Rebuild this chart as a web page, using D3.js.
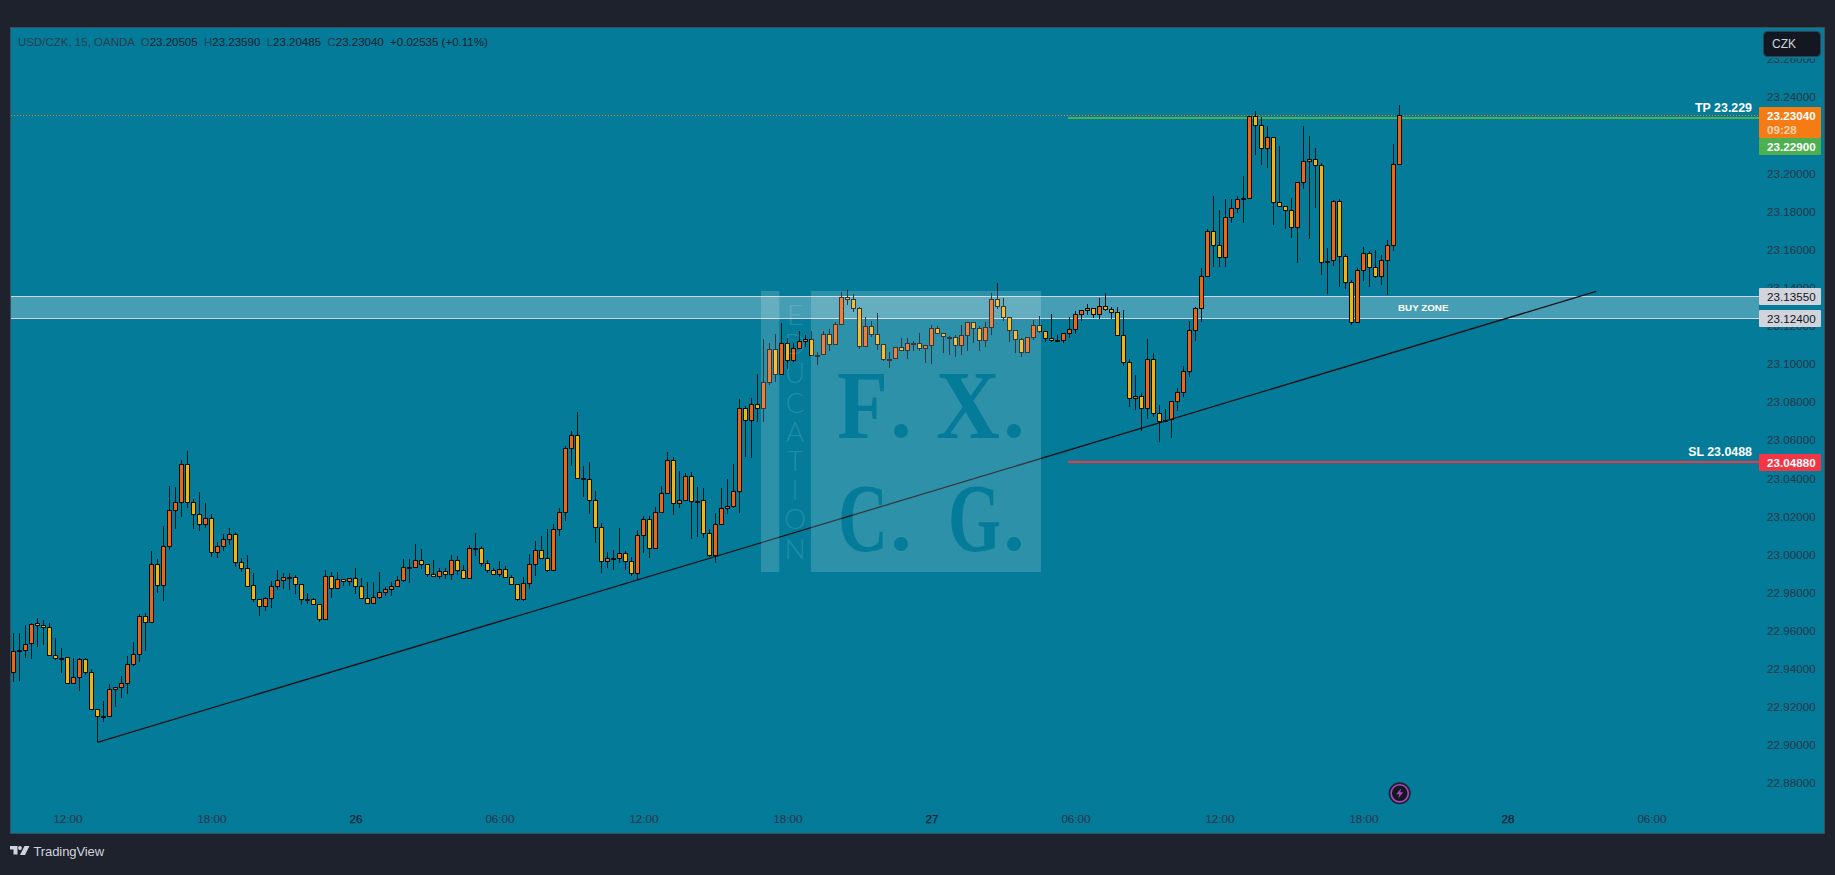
<!DOCTYPE html>
<html><head><meta charset="utf-8">
<script src="https://cdn.jsdelivr.net/npm/d3@7/dist/d3.min.js"></script>
<style>
html,body{margin:0;padding:0;background:#1e222d;overflow:hidden}
svg{display:block}
text{font-family:"Liberation Sans",sans-serif}
</style></head><body><svg id="c" width="1835" height="875"></svg>
<script>
const opens=[22.9381,22.9492,22.9497,22.9534,22.9639,22.9628,22.9618,22.9471,22.9458,22.9460,
22.9324,22.9355,22.9450,22.9381,22.9192,22.9155,22.9155,22.9292,22.9303,22.9324,
22.9423,22.9476,22.9675,22.9644,22.9948,22.9838,23.0043,23.0232,23.0274,23.0473,
23.0274,23.0211,23.0158,23.0190,23.0011,23.0046,23.0080,23.0106,22.9959,22.9927,
22.9838,22.9765,22.9728,22.9770,22.9833,22.9864,22.9878,22.9880,22.9843,22.9765,
22.9765,22.9738,22.9660,22.9885,22.9822,22.9870,22.9859,22.9875,22.9833,22.9770,
22.9744,22.9775,22.9801,22.9817,22.9833,22.9864,22.9933,22.9933,22.9969,22.9948,
22.9896,22.9885,22.9912,22.9896,22.9969,22.9917,22.9875,23.0032,23.0032,22.9954,
22.9917,22.9896,22.9922,22.9880,22.9843,22.9765,22.9849,22.9948,23.0022,22.9980,
22.9917,23.0132,23.0221,23.0557,23.0626,23.0400,23.0395,23.0284,23.0143,22.9964,
22.9980,22.9980,23.0006,22.9964,22.9901,23.0101,23.0185,23.0032,23.0221,23.0321,
23.0494,23.0268,23.0284,23.0410,23.0282,23.0284,23.0111,22.9995,23.0158,23.0242,
23.0253,23.0332,23.0767,23.0704,23.0788,23.0767,23.0903,23.1077,23.0945,23.1108,
23.1019,23.1082,23.1118,23.1129,23.1048,23.1050,23.1155,23.1103,23.1208,23.1350,
23.1339,23.1292,23.1092,23.1197,23.1155,23.1103,23.1028,23.1029,23.1087,23.1071,
23.1108,23.1108,23.1082,23.1098,23.1187,23.1160,23.1143,23.1140,23.1098,23.1150,
23.1218,23.1187,23.1124,23.1192,23.1339,23.1302,23.1245,23.1176,23.1129,23.1061,
23.1140,23.1203,23.1171,23.1134,23.1124,23.1124,23.1160,23.1182,23.1260,23.1281,
23.1292,23.1260,23.1302,23.1287,23.1271,23.1150,23.1008,23.0819,23.0830,23.0767,
23.1024,23.0741,23.0706,23.0709,23.0804,23.0851,23.0961,23.1176,23.1292,23.1460,
23.1696,23.1623,23.1560,23.1770,23.1817,23.1869,23.1869,23.2300,23.2253,23.2132,
23.2190,23.1848,23.1827,23.1806,23.1717,23.1953,23.2064,23.2074,23.2043,23.1533,
23.1544,23.1854,23.1565,23.1428,23.1218,23.1491,23.1581,23.1507,23.1460,23.1544,
23.1623,23.20505];
const highs=[22.9586,22.9586,22.9630,22.9639,22.9665,22.9656,22.9639,22.9560,22.9507,22.9460,
22.9457,22.9455,22.9455,22.9397,22.9192,22.9231,22.9318,22.9306,22.9362,22.9465,
22.9539,22.9686,22.9691,23.0018,22.9975,23.0148,23.0360,23.0353,23.0494,23.0542,
23.0290,23.0326,23.0269,23.0211,23.0064,23.0106,23.0137,23.0116,22.9980,22.9996,
22.9901,22.9765,22.9775,22.9859,22.9917,22.9901,22.9901,22.9891,22.9843,22.9798,
22.9773,22.9738,22.9917,22.9906,22.9906,22.9870,22.9875,22.9927,22.9875,22.9854,
22.9854,22.9906,22.9828,22.9854,22.9885,22.9976,22.9976,23.0053,23.0027,22.9948,
22.9969,22.9927,22.9927,22.9997,22.9990,22.9945,23.0048,23.0111,23.0043,22.9971,
22.9927,22.9964,22.9938,22.9891,22.9843,22.9880,23.0003,23.0069,23.0097,23.0132,
23.0158,23.0242,23.0568,23.0647,23.0746,23.0463,23.0484,23.0332,23.0164,23.0011,
23.0022,23.0137,23.0017,22.9989,23.0127,23.0200,23.0200,23.0248,23.0358,23.0536,
23.0510,23.0437,23.0426,23.0431,23.0352,23.0347,23.0132,23.0216,23.0347,23.0395,
23.0473,23.0816,23.0780,23.0821,23.0947,23.1131,23.1108,23.1155,23.1213,23.1134,
23.1108,23.1173,23.1150,23.1173,23.1061,23.1171,23.1182,23.1218,23.1376,23.1388,
23.1365,23.1297,23.1245,23.1225,23.1266,23.1103,23.1061,23.1087,23.1138,23.1134,
23.1118,23.1160,23.1099,23.1203,23.1199,23.1162,23.1145,23.1152,23.1203,23.1218,
23.1218,23.1197,23.1218,23.1372,23.1425,23.1346,23.1245,23.1176,23.1134,23.1140,
23.1231,23.1252,23.1171,23.1260,23.1150,23.1160,23.1245,23.1276,23.1281,23.1315,
23.1292,23.1346,23.1371,23.1297,23.1297,23.1281,23.1024,23.0940,23.0846,23.1129,
23.1056,23.0783,23.0762,23.0804,23.0872,23.0987,23.1224,23.1297,23.1502,23.1707,
23.1880,23.1806,23.1866,23.1864,23.1880,23.1985,23.2302,23.2326,23.2295,23.2247,
23.2190,23.2142,23.1827,23.1869,23.1953,23.2247,23.2195,23.2132,23.2053,23.1607,
23.1859,23.1864,23.1575,23.1439,23.1502,23.1612,23.1591,23.1596,23.1570,23.1649,
23.2153,23.2359];
const lows=[22.9332,22.9338,22.9458,22.9453,22.9516,22.9527,22.9469,22.9448,22.9380,22.9324,
22.9324,22.9285,22.9369,22.9192,22.9014,22.9122,22.9154,22.9201,22.9248,22.9269,
22.9413,22.9437,22.9495,22.9639,22.9800,22.9758,23.0025,23.0136,23.0199,23.0246,
23.0136,23.0125,23.0137,22.9989,22.9983,23.0020,23.0052,22.9936,22.9910,22.9833,
22.9749,22.9679,22.9705,22.9721,22.9814,22.9821,22.9815,22.9794,22.9737,22.9742,
22.9733,22.9647,22.9660,22.9773,22.9822,22.9836,22.9836,22.9791,22.9770,22.9738,
22.9738,22.9765,22.9784,22.9784,22.9828,22.9857,22.9850,22.9933,22.9926,22.9880,
22.9885,22.9873,22.9871,22.9866,22.9892,22.9873,22.9873,22.9994,22.9936,22.9905,
22.9891,22.9880,22.9880,22.9841,22.9758,22.9758,22.9821,22.9889,22.9980,22.9906,
22.9917,23.0097,23.0176,23.0466,23.0400,23.0304,23.0214,23.0062,22.9905,22.9931,
22.9920,22.9954,22.9917,22.9889,22.9864,23.0010,22.9983,23.0032,23.0221,23.0321,
23.0207,23.0242,23.0284,23.0081,23.0092,23.0087,22.9985,22.9955,23.0158,23.0211,
23.0242,23.0220,23.0514,23.0508,23.0697,23.0697,23.0889,23.0907,23.0945,23.0975,
23.1012,23.1082,23.1087,23.1043,23.0996,23.1050,23.1070,23.1098,23.1208,23.1309,
23.1273,23.1077,23.1092,23.1143,23.1073,23.1017,23.0980,23.1028,23.1070,23.1024,
23.1070,23.1066,23.1003,23.1001,23.1160,23.1057,23.1048,23.1038,23.1048,23.1070,
23.1112,23.1070,23.1091,23.1154,23.1290,23.1224,23.1117,23.1059,23.1038,23.1061,
23.1124,23.1160,23.1117,23.1113,23.1122,23.1112,23.1134,23.1159,23.1227,23.1257,
23.1241,23.1236,23.1276,23.1234,23.1150,23.0991,23.0776,23.0758,23.0650,23.0713,
23.0720,23.0592,23.0699,23.0613,23.0755,23.0828,23.0933,23.1122,23.1222,23.1458,
23.1511,23.1511,23.1507,23.1742,23.1791,23.1742,23.1869,23.2095,23.2046,23.2027,
23.1728,23.1825,23.1710,23.1663,23.1528,23.1920,23.1654,23.1817,23.1465,23.1365,
23.1516,23.1402,23.1395,23.1203,23.1213,23.1437,23.1402,23.1449,23.1413,23.1360,
23.1595,23.20485];
const closes=[22.9492,22.9497,22.9532,22.9637,22.9628,22.9618,22.9471,22.9455,22.9455,22.9324,
22.9355,22.9450,22.9381,22.9192,22.9155,22.9154,22.9292,22.9303,22.9324,22.9423,
22.9476,22.9675,22.9644,22.9948,22.9838,23.0043,23.0232,23.0274,23.0473,23.0274,
23.0211,23.0158,23.0190,23.0011,23.0046,23.0080,23.0106,22.9959,22.9927,22.9836,
22.9765,22.9728,22.9770,22.9833,22.9864,22.9880,22.9880,22.9843,22.9765,22.9763,
22.9738,22.9660,22.9885,22.9822,22.9870,22.9859,22.9875,22.9833,22.9770,22.9744,
22.9775,22.9801,22.9817,22.9833,22.9864,22.9933,22.9931,22.9969,22.9948,22.9896,
22.9885,22.9912,22.9896,22.9969,22.9917,22.9875,23.0032,23.0030,22.9954,22.9917,
22.9896,22.9922,22.9880,22.9843,22.9765,22.9849,22.9948,23.0022,22.9980,22.9917,
23.0132,23.0221,23.0557,23.0626,23.0400,23.0396,23.0284,23.0143,22.9964,22.9980,
22.9978,23.0006,22.9964,22.9901,23.0101,23.0185,23.0032,23.0221,23.0321,23.0494,
23.0268,23.0284,23.0410,23.0279,23.0281,23.0111,22.9995,23.0158,23.0242,23.0253,
23.0332,23.0767,23.0704,23.0788,23.0767,23.0903,23.1077,23.0945,23.1108,23.1019,
23.1082,23.1118,23.1129,23.1045,23.1047,23.1155,23.1103,23.1208,23.1350,23.1339,
23.1292,23.1092,23.1197,23.1155,23.1103,23.1024,23.1026,23.1087,23.1071,23.1108,
23.1106,23.1082,23.1098,23.1187,23.1160,23.1145,23.1141,23.1098,23.1150,23.1218,
23.1187,23.1124,23.1192,23.1339,23.1302,23.1245,23.1176,23.1129,23.1061,23.1140,
23.1203,23.1171,23.1134,23.1124,23.1122,23.1160,23.1182,23.1260,23.1281,23.1292,
23.1260,23.1302,23.1287,23.1271,23.1150,23.1008,23.0819,23.0830,23.0767,23.1024,
23.0741,23.0702,23.0704,23.0804,23.0851,23.0961,23.1176,23.1292,23.1460,23.1696,
23.1623,23.1560,23.1770,23.1817,23.1864,23.1867,23.2300,23.2253,23.2132,23.2190,
23.1848,23.1827,23.1806,23.1717,23.1953,23.2064,23.2074,23.2043,23.1533,23.1542,
23.1854,23.1565,23.1428,23.1218,23.1491,23.1581,23.1507,23.1460,23.1544,23.1623,
23.2048,23.2304];
const priceTicks=[22.88,22.90,22.92,22.94,22.96,22.98,23.00,23.02,23.04,23.06,23.08,23.10,23.12,23.14,23.16,23.18,23.20,23.22,23.24,23.26];
const timeTickBars=[9,33,57,81,105,129,153,177,201,225,249,273];
const timeTickLabels=["12:00","18:00","26","06:00","12:00","18:00","27","06:00","12:00","18:00","28","06:00"];
const lastPrice=23.2304, tpPrice=23.229, slPrice=23.0488, zoneTop=23.1355, zoneBottom=23.124;
const trendBars=[14,263.8], trendPrices=[22.9014,23.1381];
const legendParts=[["USD/CZK, 15, OANDA  O",0],["23.20505",1],["  H",0],["23.23590",1],["  L",0],["23.20485",1],["  C",0],["23.23040",1],["  +0.02535 (+0.11%)",1]];
const eduLetters="EDUCATION".split("");

const paneL=10,paneR=1825,paneT=27,paneB=833,axisX=1759,boxR=1821,levelStart=1068;
const x=d3.scaleLinear().domain([0,231]).range([13.4,1399.4]);
const y=d3.scaleLinear().domain([23.24,22.88]).range([97.2,783.2]);
const svg=d3.select("#c");
const defs=svg.append("defs");
defs.append("clipPath").attr("id","pane").append("rect").attr("x",paneL).attr("y",paneT).attr("width",paneR-paneL).attr("height",paneB-paneT);
const upCol="#f0650e",downCol="#f5b40a",bg="#037b99",ink="#263546";

svg.append("rect").attr("width",1835).attr("height",875).attr("fill","#1e222d");
svg.append("rect").attr("x",paneL+.5).attr("y",paneT+.5).attr("width",paneR-paneL-1).attr("height",paneB-paneT).attr("fill",bg).attr("stroke","#3c4e5e").attr("stroke-width",1);

const g=svg.append("g").attr("clip-path","url(#pane)");
// buy zone
g.append("rect").attr("x",paneL+1).attr("width",axisX-paneL-1).attr("y",y(zoneTop)).attr("height",y(zoneBottom)-y(zoneTop)).attr("fill","#fff").attr("fill-opacity",.265);
[zoneTop,zoneBottom].forEach(p=>g.append("line").attr("x1",paneL+1).attr("x2",axisX).attr("y1",Math.floor(y(p))+.5).attr("y2",Math.floor(y(p))+.5).attr("stroke","#d1d4dc").attr("stroke-width",1));
// last price
g.append("line").attr("x1",paneL+1).attr("x2",axisX).attr("y1",Math.floor(y(lastPrice))+.5).attr("y2",Math.floor(y(lastPrice))+.5).attr("stroke","#f57c14").attr("stroke-width",1).attr("stroke-dasharray","1 2");
// tp / sl
g.append("line").attr("x1",levelStart).attr("x2",axisX).attr("y1",Math.round(y(tpPrice))).attr("y2",Math.round(y(tpPrice))).attr("stroke","#4caf50").attr("stroke-width",2);
g.append("line").attr("x1",levelStart).attr("x2",axisX).attr("y1",Math.round(y(slPrice))).attr("y2",Math.round(y(slPrice))).attr("stroke","#f23645").attr("stroke-width",2);

// candles
const px=i=>Math.floor(x(i))+.5, py=v=>Math.round(y(v))+.5;
const bars=g.append("g").attr("shape-rendering","crispEdges");
bars.selectAll("line").data(d3.range(opens.length)).join("line")
 .attr("x1",px).attr("x2",px).attr("y1",i=>Math.round(y(highs[i]))).attr("y2",i=>Math.round(y(lows[i])))
 .attr("stroke","#0b0f14").attr("stroke-width",1);
bars.selectAll("rect").data(d3.range(opens.length)).join("rect")
 .attr("x",i=>px(i)-2).attr("width",4)
 .attr("y",i=>py(Math.max(opens[i],closes[i])))
 .attr("height",i=>Math.max(1,py(Math.min(opens[i],closes[i]))-py(Math.max(opens[i],closes[i]))))
 .attr("fill",i=>closes[i]>=opens[i]?upCol:downCol)
 .attr("stroke","#0b0f14").attr("stroke-width",1);
// trend line
g.append("line").attr("x1",x(trendBars[0])).attr("x2",x(trendBars[1])).attr("y1",y(trendPrices[0])).attr("y2",y(trendPrices[1])).attr("stroke","#0e1216").attr("stroke-width",1.3);

// watermark with cut out letters
const mask=defs.append("mask").attr("id","wm").attr("maskUnits","userSpaceOnUse").attr("x",0).attr("y",0).attr("width",1835).attr("height",875);
mask.append("rect").attr("width",1835).attr("height",875).attr("fill","#fff");
const wmGlyphs=[["F",837,438,51],["X",936,438,64],["C",838,551,50],["G",948,551,53]];
mask.selectAll("text.l").data(wmGlyphs).join("text").attr("class","l").text(d=>d[0]).attr("x",d=>d[1]).attr("y",d=>d[2])
 .attr("textLength",d=>d[3]).attr("lengthAdjust","spacingAndGlyphs").attr("fill","#000")
 .attr("font-size",98).attr("font-weight",700).style("font-family","'Liberation Serif',serif");
const wmDots=[[901,431],[1014,431],[901,544],[1014,544]];
mask.selectAll("circle").data(wmDots).join("circle").attr("cx",d=>d[0]).attr("cy",d=>d[1]).attr("r",7).attr("fill","#000");
const wm=g.append("g").attr("mask","url(#wm)");
wm.append("rect").attr("x",811).attr("y",291).attr("width",230).attr("height",281).attr("fill","#fff").attr("fill-opacity",.17);
wm.append("rect").attr("x",761).attr("y",291).attr("width",18.3).attr("height",281).attr("fill","#fff").attr("fill-opacity",.17);
g.selectAll("text.edu").data(eduLetters).join("text").attr("class","edu").text(d=>d)
 .attr("x",795).attr("y",(d,i)=>315+i*29.2+10).attr("text-anchor","middle")
 .attr("font-size",28).attr("font-weight",300).attr("fill","#fff").attr("fill-opacity",.14).style("font-family","Lato,sans-serif");

// labels on chart
const fs=11.6;
svg.append("text").text("BUY ZONE").attr("x",1398).attr("y",310.5).attr("font-size",9.8).attr("font-weight",700).attr("fill","#fff");
svg.append("text").text("TP 23.229").attr("x",1752).attr("y",112).attr("text-anchor","end").attr("font-size",12.4).attr("font-weight",700).attr("fill","#fff");
svg.append("text").text("SL 23.0488").attr("x",1752).attr("y",456).attr("text-anchor","end").attr("font-size",12.4).attr("font-weight",700).attr("fill","#fff");

// axes
const ya=svg.append("g").attr("transform",`translate(${axisX},0)`).call(d3.axisRight(y).tickValues(priceTicks).tickFormat(d3.format(".5f")).tickSize(0).tickPadding(8));
ya.select(".domain").remove();
ya.selectAll("text").attr("font-size",fs).attr("fill",ink).style("font-family","'Liberation Sans',sans-serif").attr("letter-spacing",".05");
const xa=svg.append("g").attr("transform",`translate(0,815)`).call(d3.axisBottom(x).tickValues(timeTickBars).tickFormat((d,i)=>timeTickLabels[i]).tickSize(0).tickPadding(0));
xa.select(".domain").remove();
xa.selectAll("text").attr("font-size",fs).attr("fill",(d,i)=>timeTickLabels[i].length==2?"#131d2a":ink).attr("stroke",(d,i)=>timeTickLabels[i].length==2?"#131d2a":"none").attr("stroke-width",.25).style("font-family","'Liberation Sans',sans-serif").attr("dy",".71em");

// badge
svg.append("rect").attr("x",1760).attr("y",28).attr("width",64).attr("height",30.5).attr("fill",bg);
svg.append("rect").attr("x",1763.5).attr("y",31.5).attr("width",57).attr("height",25).attr("rx",4).attr("fill","#131722").attr("stroke","#3a3e4a");
svg.append("text").text("CZK").attr("x",1772).attr("y",48).attr("font-size",12).attr("fill","#d1d4dc");

// price boxes
const box=(top,h,fill,label,col,weight)=>{
 svg.append("rect").attr("x",axisX).attr("y",top).attr("width",boxR-axisX).attr("height",h).attr("fill",fill).attr("rx",1);
 svg.append("text").text(label).attr("x",1767).attr("y",top+12.6).attr("font-size",fs).attr("fill",col).attr("font-weight",weight||400).attr("letter-spacing",".05");
};
box(107,31,"#f57c14",d3.format(".5f")(lastPrice),"#fff",700);
svg.append("text").text("09:28").attr("x",1767).attr("y",134).attr("font-size",fs).attr("fill","#ffd3ad").attr("font-weight",700);
box(138,17,"#4caf50",d3.format(".5f")(tpPrice),"#fff",700);
box(288,17,"#d1d4dc",d3.format(".5f")(zoneTop),"#131722");
box(310,17,"#d1d4dc",d3.format(".5f")(zoneBottom),"#131722");
box(454,17,"#f23645",d3.format(".5f")(slPrice),"#fff",700);

// legend
const leg=svg.append("text").attr("x",18).attr("y",46).attr("font-size",11.5).style("white-space","pre");
leg.selectAll("tspan").data(legendParts).join("tspan").text(d=>d[0]).attr("fill",d=>d[1]?"#0e1c2b":"#2a3d52");

// lightning marker
const ic=svg.append("g").attr("transform","translate(1399.7,793.3)");
ic.append("circle").attr("r",11).attr("fill","#1e222d");
ic.append("circle").attr("r",8.6).attr("fill","#131722").attr("stroke","#ab47bc").attr("stroke-width",1.6);
ic.append("path").attr("d","M1.5,-5 L-3.5,1 L-.5,1 L-1.5,5 L3.5,-1 L.5,-1 Z").attr("fill","#ab47bc");

// brand
const br=svg.append("g").attr("transform","translate(10,846)").attr("fill","#d1d4dc");
br.append("path").attr("d","M0,0 H7.5 V8.5 H3.5 V3.5 H0 Z");
br.append("circle").attr("cx",10).attr("cy",2).attr("r",1.9);
br.append("path").attr("d","M14.5,0 H19.5 L15,9 H10 Z");
br.append("text").text("TradingView").attr("x",23.5).attr("y",9.6).attr("font-size",13).attr("letter-spacing","-.1");
</script></body></html>
